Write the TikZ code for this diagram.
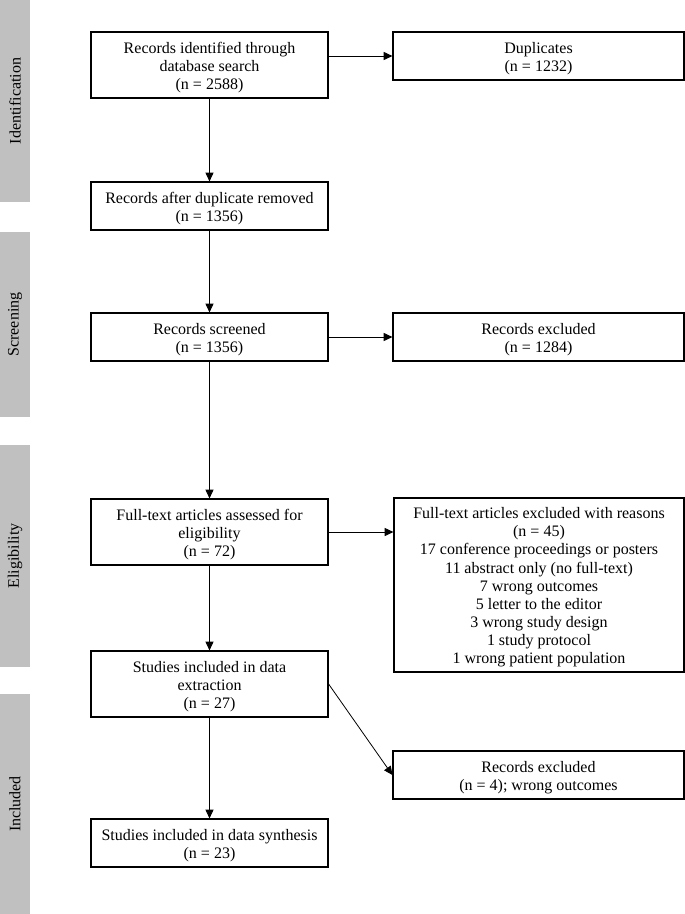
\documentclass[tikz,border=0pt]{standalone}
\usepackage{fontspec}
\setmainfont{Liberation Serif}
\usetikzlibrary{arrows.meta}
\definecolor{barg}{RGB}{192,192,192}
\newcommand{\tstrut}{\rule{0pt}{11.8pt}}
\begin{document}
\begin{tikzpicture}[x=0.75pt,y=-0.75pt,
  box/.style={draw=black,line width=0.9pt,align=center,inner sep=0pt,
    font=\fontsize{12}{13.6}\selectfont},
  leftbox/.style={box,minimum width=177.75pt},
  rightbox/.style={box,minimum width=218.25pt},
  arr/.style={line width=0.6pt,-{Triangle[length=6.5pt,width=6pt]}},
  phase/.style={rotate=90,font=\fontsize{12}{14}\selectfont,inner sep=0pt}]
\useasboundingbox (0,0) rectangle (685,914);
% side bars
\fill[barg] (0,0) rectangle (30,202);
\fill[barg] (0,232) rectangle (30,417);
\fill[barg] (0,445) rectangle (30,667);
\fill[barg] (0,694) rectangle (30,914);
\node[phase] (p1) at (15,101) {Identification};
\node[phase] (p2) at (15,324.5) {Screening};
\node[phase] (p3) at (15,556) {Eligibility};
\node[phase] (p4) at (15,804) {Included};
% left column
\node[leftbox,minimum height=49.5pt] (b1) at (209.5,65) {\tstrut Records identified through\\database search\\(n = 2588)};
\node[leftbox,minimum height=36pt] (b2) at (209.5,206) {\tstrut Records after duplicate removed\\(n = 1356)};
\node[leftbox,minimum height=36pt] (b3) at (209.5,337) {\tstrut Records screened\\(n = 1356)};
\node[leftbox,minimum height=49.5pt] (b4) at (209.5,532) {\tstrut Full-text articles assessed for\\eligibility\\(n = 72)};
\node[leftbox,minimum height=49.5pt] (b5) at (209.5,684) {\tstrut Studies included in data\\extraction\\(n = 27)};
\node[leftbox,minimum height=36pt] (b6) at (209.5,843) {\tstrut Studies included in data synthesis\\(n = 23)};
% right column
\node[rightbox,minimum height=36pt] (r1) at (538.5,56) {\tstrut Duplicates\\(n = 1232)};
\node[rightbox,minimum height=36pt] (r2) at (538.5,337) {\tstrut Records excluded\\(n = 1284)};
\node[box,minimum width=217.5pt,minimum height=130.5pt] (r3) at (539,585) {\tstrut Full-text articles excluded with reasons\\(n = 45)\\17 conference proceedings or posters\\11 abstract only (no full-text)\\7 wrong outcomes\\5 letter to the editor\\3 wrong study design\\1 study protocol\\1 wrong patient population};
\node[rightbox,minimum height=36pt] (r4) at (538.5,775) {\tstrut Records excluded\\(n = 4); wrong outcomes};
% connectors
\draw[arr] (b1.south) -- (b2.north);
\draw[arr] (b2.south) -- (b3.north);
\draw[arr] (b3.south) -- (b4.north);
\draw[arr] (b4.south) -- (b5.north);
\draw[arr] (b5.south) -- (b6.north);
\draw[arr] (b1.east |- r1.west) -- (r1.west);
\draw[arr] (b3.east) -- (r2.west);
\draw[arr] (b4.east) -- (b4.east -| r3.west);
\draw[arr] (b5.east) -- (r4.west);
\end{tikzpicture}
\end{document}
